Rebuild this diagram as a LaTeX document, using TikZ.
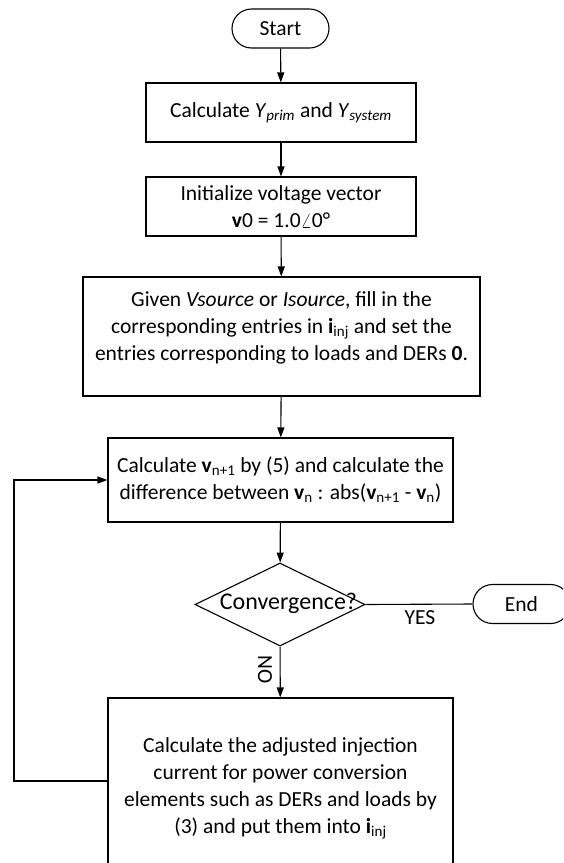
\documentclass[tikz,border=0pt]{standalone}
\usepackage{fontspec}
\setmainfont{Carlito}
\usetikzlibrary{arrows.meta,shapes.geometric}
\begin{document}
\begin{tikzpicture}[x=1pt,y=-1pt,
  every node/.style={font=\fontsize{21.5}{27}\selectfont, text=black, align=center},
  box/.style={draw, line width=1.1pt, inner sep=0pt},
  terminal/.style={draw, line width=1.1pt, rounded corners=19.5pt,
    minimum width=97pt, minimum height=39pt, inner sep=0pt},
  decision/.style={draw, line width=1.1pt, shape=diamond, inner sep=0pt,
    minimum width=170pt, minimum height=83pt},
  flow/.style={line width=1.1pt, -{Triangle[length=10pt,width=7pt]}},
  plain/.style={line width=1.1pt}
]
\useasboundingbox (0,0) rectangle (563,863);
\clip (0,0) rectangle (563,863);

% start / end terminals
\node[terminal] (start) at (280.5,28.5) {Start};
\node[terminal] (stop) at (521.5,604) {End};

% process boxes
\node[box, minimum width=270pt, minimum height=59pt] (b1) at (281,112.5)
  {Calculate \textit{Y}\textsubscript{\textit{prim}} and \textit{Y}\textsubscript{\textit{system}}};
\node[box, minimum width=270pt, minimum height=59pt] (b2) at (281,206.5)
  {Initialize voltage vector\\ \textbf{v}0 = 1.0$\angle$0°};
\node[box, minimum width=397pt, minimum height=119pt] (b3) at (281.5,336.5) {};
\node (t3) at (281.5,327.5)
  {Given \textit{Vsource} or \textit{Isource}, fill in the\\
   corresponding entries in \textbf{i}\textsubscript{inj} and set the\\
   entries corresponding to loads and DERs \textbf{0}.};
\node[box, minimum width=345pt, minimum height=84pt] (b4) at (280.5,480)
  {Calculate \textbf{v}\textsubscript{n+1} by (5) and calculate the\\
   difference between \textbf{v}\textsubscript{n} : abs(\textbf{v}\textsubscript{n+1} - \textbf{v}\textsubscript{n})};
\node[box, minimum width=345pt, minimum height=182pt] (b5) at (280.5,789) {};
\node (t5) at (280.5,788)
  {Calculate the adjusted injection\\
   current for power conversion\\
   elements such as DERs and loads by\\
   (3) and put them into \textbf{i}\textsubscript{inj}};

% decision
\node[decision] (conv) at (280,604.5) {};
\node[font=\fontsize{24}{29}\selectfont] (tc) at (288.5,603.5) {Convergence?};

% branch labels
\node (yes) at (420,618) {YES};
\node[rotate=-90] (no) at (265,670) {NO};

% main flow
\draw[flow] (start) -- (b1);
\draw[flow] (b1) -- (b2);
\draw[flow] (b2) -- (b3);
\draw[flow] (b3) -- (b4);
\draw[flow] (b4) -- (conv);
\draw[flow] (conv) -- (b5);
\draw[plain] (conv.east) -- (stop.west);

% feedback loop
\coordinate (lb) at (14,781);
\coordinate (lt) at (14,480);
\draw[flow] (b5.west |- lb) -- (lb) -- (lt) -- (b4.west |- lt);
\end{tikzpicture}
\end{document}
